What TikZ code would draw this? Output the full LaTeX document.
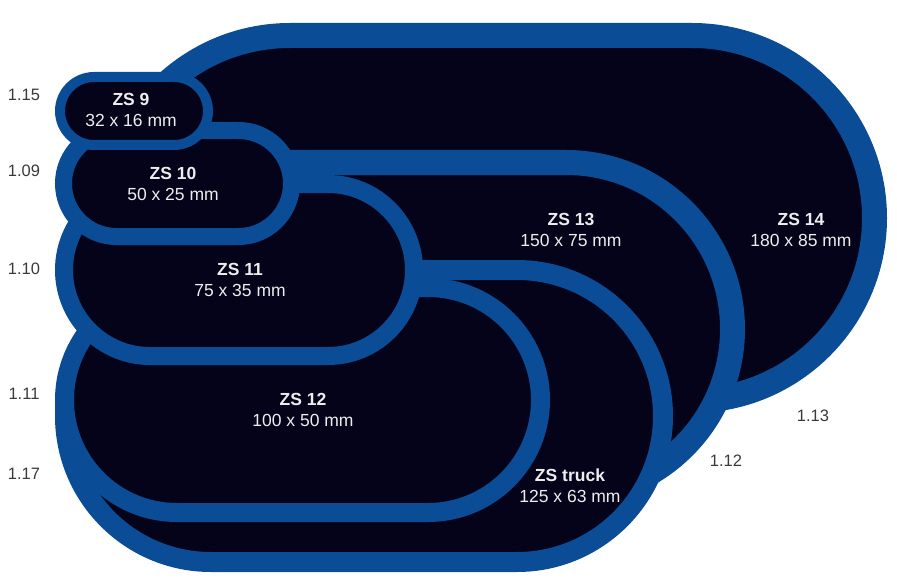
\documentclass[tikz,border=0pt]{standalone}
\usepackage{fontspec}
\setmainfont{Liberation Sans}
\definecolor{patchblue}{HTML}{0B4C96}
\definecolor{patchfill}{HTML}{05031A}
\definecolor{labelgray}{HTML}{3A3A3A}
\tikzset{
  patch/.style={draw=patchblue, fill=patchfill},
  sizetext/.style={text=white!93!black, align=center, inner sep=0pt, font=\fontsize{17.5}{21}\selectfont},
  factor/.style={text=labelgray, inner sep=0pt, font=\fontsize{16.5}{20}\selectfont}
}
% stadium patch: left centre x, right centre x, centre y, outer radius, rim width
\newcommand{\zspatch}[5]{%
  \pgfmathsetmacro{\rimr}{#4-#5/2}
  \draw[patch, line width=#5pt] (#1,#3-\rimr) -- (#2,#3-\rimr)
    arc[start angle=-90, end angle=90, radius=\rimr] -- (#1,#3+\rimr)
    arc[start angle=90, end angle=270, radius=\rimr] -- cycle;}

\begin{document}
\begin{tikzpicture}[x=1pt, y=-1pt]
  \useasboundingbox (0,0) rectangle (897,583);
  \zspatch{290}{692}{218}{195}{25}
  \zspatch{270}{566}{329}{179}{25}
  \zspatch{211}{517}{416}{156}{20}
  \zspatch{177}{428}{400}{122}{19}
  \zspatch{150}{328}{270}{95}{18}
  \zspatch{116.5}{238.5}{183.5}{61.5}{17}
  \zspatch{94}{174}{111}{39}{10}

  \node[sizetext] (zs9) at (131,110) {\textbf{ZS 9}\\32 x 16 mm};
  \node[sizetext] (zs10) at (173,184) {\textbf{ZS 10}\\50 x 25 mm};
  \node[sizetext] (zs11) at (240,280) {\textbf{ZS 11}\\75 x 35 mm};
  \node[sizetext] (zs12) at (303,410) {\textbf{ZS 12}\\100 x 50 mm};
  \node[sizetext] (zs13) at (571,230) {\textbf{ZS 13}\\150 x 75 mm};
  \node[sizetext] (zs14) at (801,230) {\textbf{ZS 14}\\180 x 85 mm};
  \node[sizetext] (zstruck) at (570,486) {\textbf{ZS truck}\\125 x 63 mm};

  \node[factor] (f15) at (24,95) {1.15};
  \node[factor] (f09) at (24,171) {1.09};
  \node[factor] (f10) at (24,269) {1.10};
  \node[factor] (f11) at (24,394) {1.11};
  \node[factor] (f17) at (24,474) {1.17};
  \node[factor] (f13) at (813,416) {1.13};
  \node[factor] (f12) at (726,461) {1.12};
\end{tikzpicture}
\end{document}
